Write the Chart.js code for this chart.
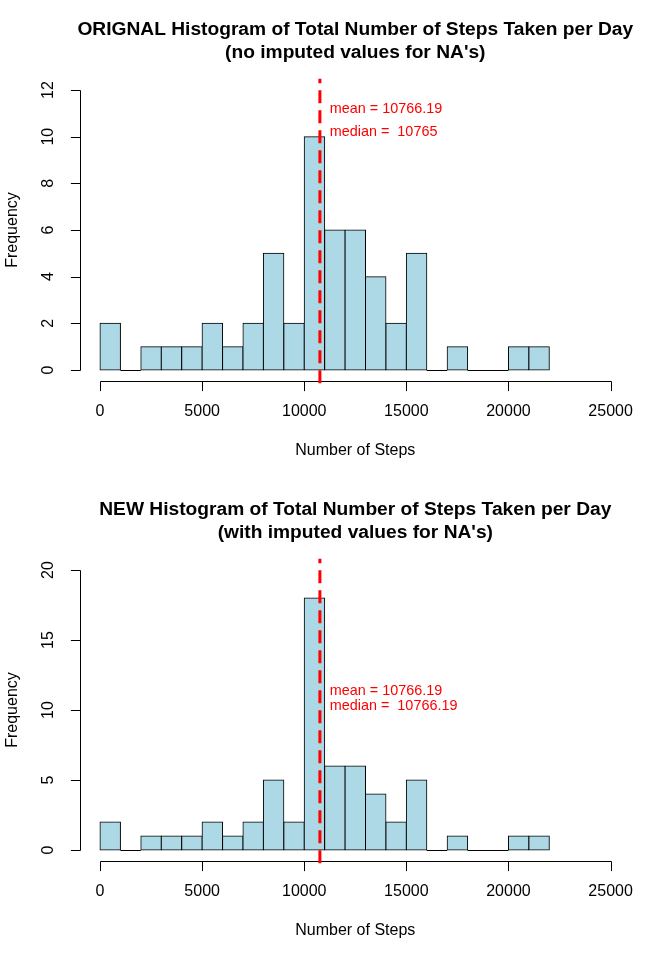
<!DOCTYPE html>
<html>
<head>
<meta charset="utf-8">
<script src="https://cdn.jsdelivr.net/npm/chart.js@4"></script>
<style>
  html, body { margin:0; padding:0; background:#fff; }
  canvas { display:block; }
</style>
</head>
<body>
<canvas id="histOrig" width="672" height="480"></canvas>
<canvas id="histNew" width="672" height="480"></canvas>
<script>
// bin edges of the histogram (steps per day)
const binEdges = [0,1000,2000,3000,4000,5000,6000,7000,8000,9000,10000,11000,
                  12000,13000,14000,15000,16000,17000,18000,19000,20000,21000,22000];
// frequency per bin, original data (NA days dropped)
const countsOrig = [2,0,1,1,1,2,1,2,5,2,10,6,6,4,2,5,0,1,0,0,1,1];
// frequency per bin, with NA days imputed
const countsNew  = [2,0,1,1,1,2,1,2,5,2,18,6,6,4,2,5,0,1,0,0,1,1];
const xTicks = [0,5000,10000,15000,20000,25000];
const yTicksOrig = [0,2,4,6,8,10,12];
const yTicksNew = [0,5,10,15,20];
const meanOrig = 10766.19, medianOrig = 10765;
const meanNew = 10766.19, medianNew = 10766.19;

const FONT = '"Liberation Sans", Arial, sans-serif';

// R-style axes, titles and mean marker drawn over chart.js scales
const rStyle = {
  id: 'rStyle',
  afterDatasetsDraw(chart, args, o) {
    const {ctx, chartArea: a, scales: {x, y}} = chart;
    const px = v => x.getPixelForValue(v);
    const py = v => y.getPixelForValue(v);
    const crisp = v => Math.round(v) + 0.5;
    ctx.save();
    ctx.strokeStyle = '#000';
    ctx.lineWidth = 1;

    // empty bins still show their bottom edge
    o.counts.forEach((c, i) => {
      if (c !== 0) return;
      ctx.beginPath();
      ctx.moveTo(px(binEdges[i]), crisp(py(0)));
      ctx.lineTo(px(binEdges[i+1]), crisp(py(0)));
      ctx.stroke();
    });

    // x axis
    const xa = crisp(a.bottom);
    ctx.beginPath();
    ctx.moveTo(crisp(px(xTicks[0])), xa);
    ctx.lineTo(crisp(px(xTicks[xTicks.length-1])), xa);
    xTicks.forEach(t => { ctx.moveTo(crisp(px(t)), xa); ctx.lineTo(crisp(px(t)), xa + 9.6); });
    // y axis
    const ya = crisp(a.left);
    ctx.moveTo(ya, crisp(py(o.yTicks[0])));
    ctx.lineTo(ya, crisp(py(o.yTicks[o.yTicks.length-1])));
    o.yTicks.forEach(t => { ctx.moveTo(ya, crisp(py(t))); ctx.lineTo(ya - 9.6, crisp(py(t))); });
    ctx.stroke();

    ctx.fillStyle = '#000';
    ctx.font = '16px ' + FONT;
    ctx.textAlign = 'center';
    ctx.textBaseline = 'middle';
    xTicks.forEach(t => ctx.fillText(String(t), px(t), a.bottom + 30));
    o.yTicks.forEach(t => {
      ctx.save();
      ctx.translate(a.left - 31, py(t));
      ctx.rotate(-Math.PI/2);
      ctx.fillText(String(t), 0, 0);
      ctx.restore();
    });
    const midX = (a.left + a.right) / 2;
    ctx.fillText('Number of Steps', midX, a.bottom + 69);
    ctx.save();
    ctx.translate(13, (a.top + a.bottom) / 2);
    ctx.rotate(-Math.PI/2);
    ctx.fillText('Frequency', 0, 0);
    ctx.restore();

    ctx.font = 'bold 19.2px ' + FONT;
    ctx.fillText(o.title[0], midX, 30);
    ctx.fillText(o.title[1], midX, 53);

    // mean line (dash pattern starts at the bottom, like abline)
    ctx.strokeStyle = '#ff0000';
    ctx.lineWidth = 3;
    ctx.setLineDash([13, 7]);
    ctx.beginPath();
    ctx.moveTo(px(o.mean), a.bottom + 2);
    ctx.lineTo(px(o.mean), a.top);
    ctx.stroke();
    ctx.setLineDash([]);

    ctx.fillStyle = '#ff0000';
    ctx.font = '14.4px ' + FONT;
    ctx.textAlign = 'left';
    ctx.fillText('mean = ' + o.mean.toFixed(2), px(11250), py(o.labelY[0]));
    ctx.fillText('median =  ' + o.medianText, px(11250), py(o.labelY[1]));
    ctx.restore();
  }
};

function drawHist(id, counts, yMax, yTicks, title, mean, medianText, labelY) {
  const pad = yMax * 0.04;
  const pts = counts.map((c, i) => ({ x: (binEdges[i] + binEdges[i+1]) / 2, y: c }));
  return new Chart(document.getElementById(id), {
    type: 'bar',
    data: {
      datasets: [{
        data: pts,
        backgroundColor: '#add8e6',
        borderColor: '#000',
        borderWidth: 1,
        borderSkipped: false,
        inflateAmount: 0.5,
        barPercentage: 1,
        categoryPercentage: 1
      }]
    },
    options: {
      responsive: false,
      animation: false,
      devicePixelRatio: 1,
      layout: { padding: { left: 79.6, right: 41, top: 78.8, bottom: 98.8 } },
      scales: {
        x: { type: 'linear', offset: false, min: -1000, max: 26000, display: false },
        y: { min: -pad, max: yMax + pad, display: false }
      },
      plugins: {
        legend: { display: false },
        tooltip: { enabled: false },
        rStyle: { counts, yTicks, title, mean, medianText, labelY }
      }
    },
    plugins: [rStyle]
  });
}

drawHist('histOrig', countsOrig, 12, yTicksOrig,
  ['ORIGNAL Histogram of Total Number of Steps Taken per Day', "(no imputed values for NA's)"],
  meanOrig, String(medianOrig), [11.2, 10.2]);
drawHist('histNew', countsNew, 20, yTicksNew,
  ['NEW Histogram of Total Number of Steps Taken per Day', "(with imputed values for NA's)"],
  meanNew, medianNew.toFixed(2), [11.35, 10.3]);
</script>
</body>
</html>
